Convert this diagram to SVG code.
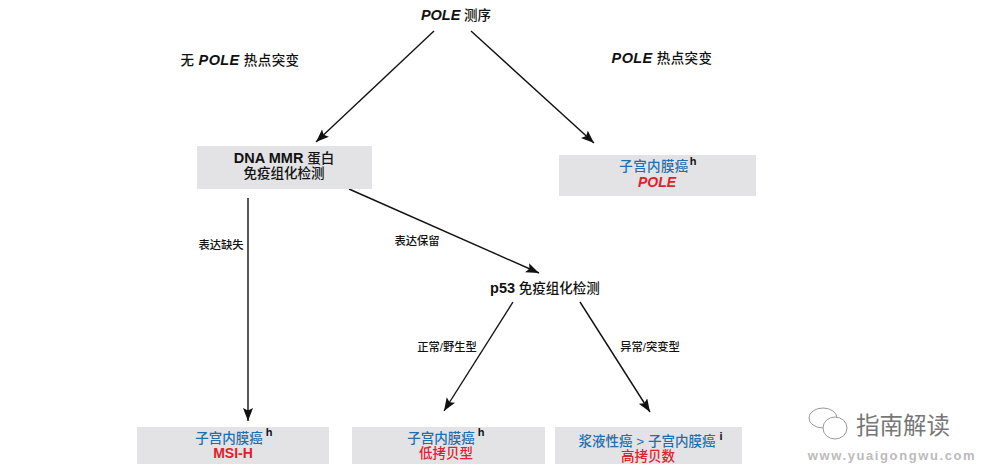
<svg xmlns="http://www.w3.org/2000/svg" width="982" height="468" viewBox="0 0 982 468">
<style>
text{font-family:"Liberation Sans","Noto Sans CJK SC",sans-serif;text-anchor:middle;fill:#111}
.b{font-weight:700}
.i{font-weight:700;font-style:italic}
.t{font-size:13.5px;font-weight:500}
.s{font-size:11.3px;font-weight:500}
.box{fill:#e3e3e5}
.blue{fill:#1f6fae;font-size:13.5px;font-weight:500}
.red{fill:#e0202c;font-size:14px;font-weight:700}
.red2{fill:#e0202c;font-size:13.5px;font-weight:500}
.sup{font-size:11px;font-weight:700}
.conn line{stroke:#111;stroke-width:1.4;marker-end:url(#a)}
</style>
<defs><marker id="a" markerUnits="userSpaceOnUse" markerWidth="14" markerHeight="12" refX="13" refY="5" orient="auto"><path d="M0 0L13 5L0 10L2.5 5Z" fill="#111"/></marker></defs>
<rect width="982" height="468" fill="#fff"/>
<g id="connectors" class="conn">
<line x1="434" y1="31" x2="316" y2="142"/>
<line x1="471" y1="31" x2="594" y2="143"/>
<line x1="248" y1="198" x2="248" y2="421"/>
<line x1="349" y1="189" x2="539" y2="273"/>
<line x1="513" y1="302" x2="444" y2="411"/>
<line x1="580" y1="302" x2="650" y2="412"/>
</g>
<g id="n-pole-seq"><text x="456" y="20" class="t"><tspan class="i" font-size="14.5">POLE</tspan> 测序</text></g>
<g id="l-no-pole"><text x="240" y="65" class="t" letter-spacing=".4">无 <tspan class="i" font-size="14.5">POLE</tspan> 热点突变</text></g>
<g id="l-pole"><text x="662" y="63" class="t" letter-spacing=".4"><tspan class="i" font-size="14.5">POLE</tspan> 热点突变</text></g>
<g id="n-mmr"><rect class="box" x="197" y="146" width="175" height="43"/>
<text x="284" y="163" style="font-size:13.5px;font-weight:500"><tspan class="b" font-size="14.5">DNA MMR</tspan> 蛋白</text>
<text x="284" y="178" style="font-size:13.5px;font-weight:500">免疫组化检测</text></g>
<g id="n-pole"><rect class="box" x="559" y="155" width="197" height="41"/>
<text x="654" y="171" class="blue" letter-spacing=".4">子宫内膜癌</text><text x="693" y="165" class="sup">h</text>
<text x="657" y="187" class="red" font-style="italic">POLE</text></g>
<g id="l-loss"><text x="221" y="249" class="s">表达缺失</text></g>
<g id="l-keep"><text x="417" y="245" class="s">表达保留</text></g>
<g id="n-p53"><text x="545" y="293" class="t"><tspan class="b" font-size="14.5">p53</tspan> 免疫组化检测</text></g>
<g id="l-normal"><text x="447" y="351" class="s">正常/野生型</text></g>
<g id="l-abn"><text x="650" y="351" class="s">异常/突变型</text></g>
<g id="n-msi"><rect class="box" x="137" y="427" width="192" height="37"/>
<text x="229" y="443" class="blue">子宫内膜癌</text><text x="269" y="436" class="sup">h</text>
<text x="233" y="458" class="red">MSI-H</text></g>
<g id="n-low"><rect class="box" x="352" y="427" width="193" height="37"/>
<text x="441" y="443" class="blue">子宫内膜癌</text><text x="481" y="436" class="sup">h</text>
<text x="446" y="458" class="red2">低拷贝型</text></g>
<g id="n-high"><rect class="box" x="555" y="427" width="187" height="37"/>
<text x="647" y="446" class="blue">浆液性癌 &gt; 子宫内膜癌</text><text x="721" y="440" class="sup">i</text>
<text x="648" y="461" class="red2">高拷贝数</text></g>
<g id="watermark">
<g fill="none" stroke="#999" stroke-width="1"><ellipse cx="823" cy="418" rx="14" ry="10"/><ellipse cx="835" cy="428" rx="12" ry="11" fill="#fff"/></g>
<text x="903" y="434" style="fill:#777;font-size:23.5px">指南解读</text>
<text x="892" y="460" class="b" letter-spacing="1.6" style="fill:#bbb;font-size:13px">www.yuaigongwu.com</text>
</g>
</svg>
